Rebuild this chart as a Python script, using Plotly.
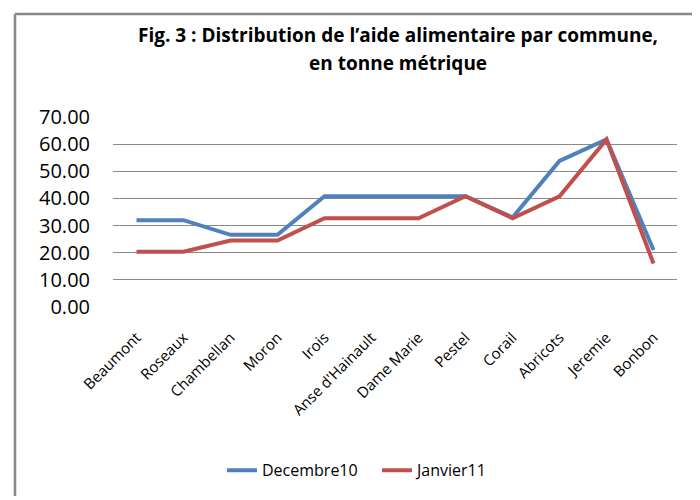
import plotly.graph_objects as go

communes = ["Beaumont", "Roseaux", "Chambellan", "Moron", "Irois", "Anse d'Hainault",
            "Dame Marie", "Pestel", "Corail", "Abricots", "Jeremie", "Bonbon"]
decembre10 = [32.0, 32.0, 26.6, 26.6, 40.8, 40.8, 40.8, 40.8, 33.0, 53.8, 61.7, 21.0]
janvier11 = [20.4, 20.4, 24.5, 24.5, 32.7, 32.7, 32.7, 40.8, 32.7, 40.8, 61.7, 16.0]
y_ticks = [0, 10, 20, 30, 40, 50, 60, 70]

OFF = 8  # page body margin
W, H = 700 - OFF, 500 - OFF
# target page coordinates of the plot area
PL, PR, PT, PB = 113, 677, 117, 309
L, T = PL - OFF, PT - OFF
R, B = W - (PR - OFF), H - (PB - OFF)
pw, ph = W - L - R, H - T - B

def px(x):
    return (x - OFF - L) / pw

def py(y):
    return (H - B - (y - OFF)) / ph

fig = go.Figure()
fig.add_trace(go.Scatter(x=communes, y=decembre10, mode="lines", name="Decembre10",
                         line=dict(color="#4F81BD", width=4)))
fig.add_trace(go.Scatter(x=communes, y=janvier11, mode="lines", name="Janvier11",
                         line=dict(color="#C0504D", width=4)))

font_main = "Open Sans, DejaVu Sans, sans-serif"
fig.update_layout(
    width=W, height=H,
    margin=dict(l=L, r=R, t=T, b=B),
    paper_bgcolor="white", plot_bgcolor="white",
    showlegend=True,
    legend=dict(orientation="h", x=px(222), xanchor="left", y=py(474), yanchor="middle",
                entrywidth=110, entrywidthmode="pixels",
                font=dict(family=font_main, size=16, color="#000"), traceorder="normal"),
    xaxis=dict(type="category", range=[-0.5, 11.5], tickangle=-45, showgrid=False,
               zeroline=False, showline=False, ticks="outside", ticklen=15,
               tickcolor="rgba(0,0,0,0)",
               tickfont=dict(family=font_main, size=15, color="#000")),
    yaxis=dict(range=[0, 70], tickvals=y_ticks, tickformat=".2f", showgrid=True,
               gridcolor="#8a8a8a", gridwidth=1, zeroline=False, showline=False,
               ticks="outside", ticklen=18, tickcolor="rgba(0,0,0,0)",
               tickfont=dict(family=font_main, size=20, color="#000")),
    shapes=[
        dict(type="line", xref="paper", yref="paper", x0=px(15), x1=px(15), y0=py(13), y1=py(500),
             line=dict(color="#888888", width=2.5)),
        dict(type="line", xref="paper", yref="paper", x0=px(15), x1=px(700), y0=py(13), y1=py(13),
             line=dict(color="#888888", width=2.5)),
        dict(type="line", xref="paper", yref="paper", x0=px(699), x1=px(699), y0=py(13), y1=py(500),
             line=dict(color="#dddddd", width=1)),
    ],
    annotations=[
        dict(text="<b>Fig. 3 : Distribution de l’aide alimentaire par commune,</b>", xref="paper", yref="paper",
             x=px(398), y=py(34), xanchor="center", yanchor="middle", showarrow=False,
             font=dict(family="Open Sans, sans-serif", size=19, color="#000")),
        dict(text="<b>en tonne métrique</b>", xref="paper", yref="paper",
             x=px(398), y=py(62), xanchor="center", yanchor="middle", showarrow=False,
             font=dict(family="Open Sans, sans-serif", size=19, color="#000")),
    ],
)

fig.write_html("out.html")
